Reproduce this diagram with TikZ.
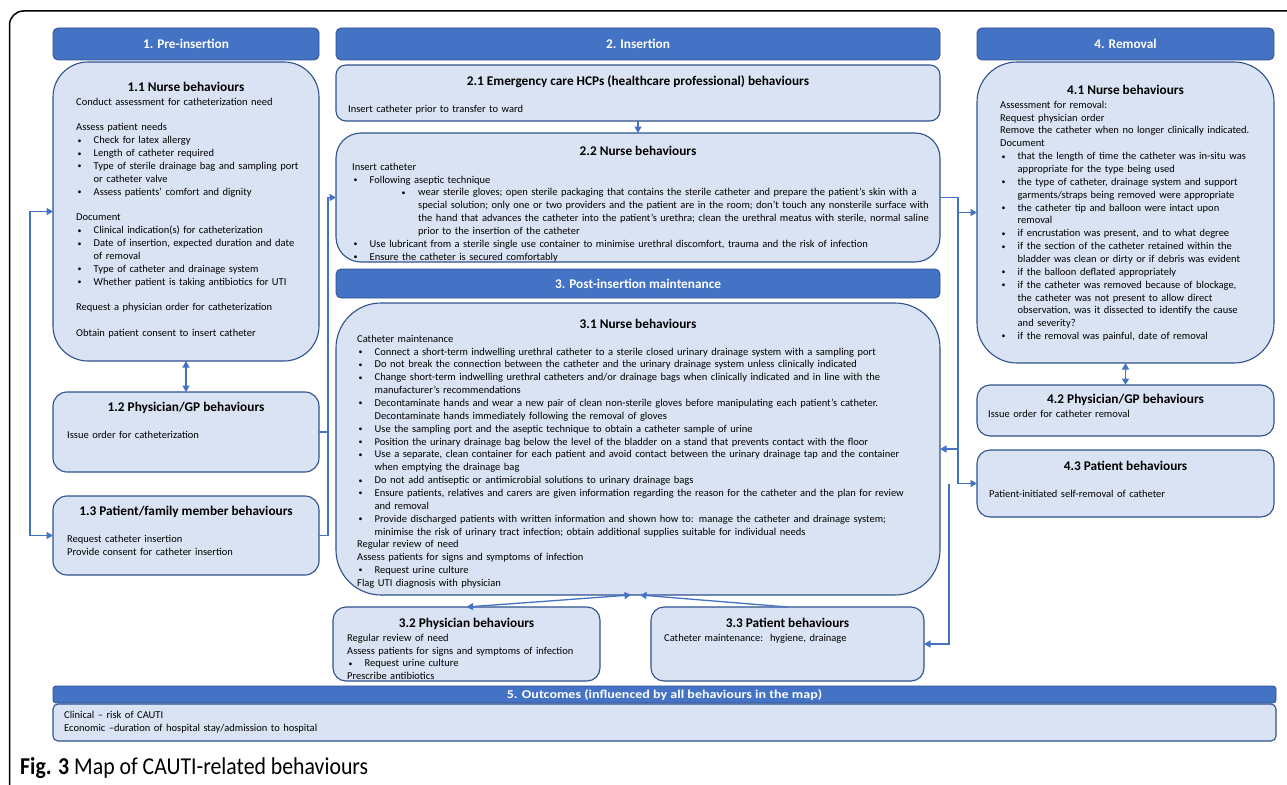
\documentclass[tikz,border=0pt]{standalone}
\usepackage{fontspec}
\setmainfont{Carlito}
\newfontfamily\capfont[FakeStretch=0.9]{Carlito}
\newfontfamily\widefont[FakeStretch=1.17]{Carlito}
\usetikzlibrary{arrows.meta,calc}
\definecolor{hdr}{HTML}{4472C4}
\definecolor{hdrline}{HTML}{2F528F}
\definecolor{boxfill}{HTML}{DAE3F3}
\definecolor{boxline}{HTML}{2F528F}
\definecolor{conncol}{HTML}{4472C4}
\newcommand\bulletmark{\raisebox{0.6pt}{\scalebox{0.75}{•}}}
\newcommand\PL[1]{\par\noindent\rule{0pt}{9pt}#1}
\newcommand\BL[1]{\par\noindent\hangindent=17.5pt\hangafter=1\rule{0pt}{9pt}\makebox[17.5pt][l]{\hspace{1.5pt}\bulletmark}#1}
\newcommand\SBL[1]{\par\noindent\hangindent=66pt\hangafter=1\rule{0pt}{9pt}\hspace{49.5pt}\makebox[16.5pt][l]{\bulletmark}#1}
\newcommand\BLANK{\par\noindent\rule{0pt}{9pt}}
\begin{document}
\begin{tikzpicture}[x=1pt,y=-1pt,
  hdrbox/.style={draw=hdrline,fill=hdr,line width=0.8pt,anchor=north west,inner sep=0pt,outer sep=0pt,
    text=white,font=\fontsize{13.3}{16}\selectfont\bfseries},
  bbox/.style={draw=boxline,fill=boxfill,line width=1.1pt,anchor=north west,inner sep=0pt,outer sep=0pt},
  ttl/.style={anchor=base,inner sep=0pt,font=\fontsize{13.3}{16}\selectfont\bfseries},
  body/.style={anchor=north west,inner sep=0pt,text width=#1,font=\fontsize{10.5}{12.85}\selectfont},
  body/.default=300pt,
  conn/.style={draw=conncol,line width=1.3pt},
  >={Triangle[length=6.5pt,width=7pt]}
]
\useasboundingbox (0,0) rectangle (1287,784);
\clip (0,0) rectangle (1287,784);
\fill[white] (0,0) rectangle (1287,784);
% outer frame
\draw[line width=1.5pt,rounded corners=14pt] (9.5,820) -- (9.5,11) -- (1320,11);

% headers
\node[hdrbox,minimum width=266pt,minimum height=32pt,rounded corners=5pt] (h1) at (53,28) {1. Pre-insertion};
\node[hdrbox,minimum width=604pt,minimum height=32pt,rounded corners=5pt] (h2) at (336,28) {2. Insertion};
\node[hdrbox,minimum width=604pt,minimum height=29pt,rounded corners=5pt] (h3) at (336,269) {3. Post-insertion maintenance};
\node[hdrbox,minimum width=297pt,minimum height=32pt,rounded corners=5pt] (h4) at (977,28) {4. Removal};
\node[hdrbox,minimum width=1223pt,minimum height=17pt,rounded corners=3pt,font=\widefont\fontsize{12}{12}\selectfont\bfseries] (h5) at (53,686) {5. Outcomes (influenced by all behaviours in the map)};

% boxes
\node[bbox,minimum width=266pt,minimum height=299pt,rounded corners=35pt] (b11) at (53,62) {};
\node[bbox,minimum width=266pt,minimum height=80pt,rounded corners=14pt] (b12) at (53,392) {};
\node[bbox,minimum width=266pt,minimum height=79pt,rounded corners=14pt] (b13) at (53,496) {};
\node[bbox,minimum width=604pt,minimum height=56pt,rounded corners=10pt] (b21) at (336,65) {};
\node[bbox,minimum width=604pt,minimum height=129pt,rounded corners=25pt] (b22) at (336,133) {};
\node[bbox,minimum width=604pt,minimum height=292pt,rounded corners=45pt] (b31) at (336,303) {};
\node[bbox,minimum width=267pt,minimum height=74pt,rounded corners=13pt] (b32) at (333,607) {};
\node[bbox,minimum width=273pt,minimum height=74pt,rounded corners=13pt] (b33) at (651,607) {};
\node[bbox,minimum width=297pt,minimum height=301pt,rounded corners=40pt] (b41) at (977,62) {};
\node[bbox,minimum width=297pt,minimum height=51pt,rounded corners=13pt] (b42) at (977,385) {};
\node[bbox,minimum width=297pt,minimum height=67pt,rounded corners=13pt] (b43) at (977,450) {};
\node[bbox,minimum width=1223pt,minimum height=37pt,rounded corners=5pt] (b5) at (53,704) {};

% titles
\node[ttl] (t11) at (186,91.8) {1.1 Nurse behaviours};
\node[ttl] (t12) at (186,411.8) {1.2 Physician/GP behaviours};
\node[ttl] (t13) at (186,515.8) {1.3 Patient/family member behaviours};
\node[ttl] (t21) at (638,85.8) {2.1 Emergency care HCPs (healthcare professional) behaviours};
\node[ttl] (t22) at (638,155.8) {2.2 Nurse behaviours};
\node[ttl] (t31) at (638,328.8) {3.1 Nurse behaviours};
\node[ttl] (t32) at (466.5,627.8) {3.2 Physician behaviours};
\node[ttl] (t33) at (787.5,627.8) {3.3 Patient behaviours};
\node[ttl] (t41) at (1125.5,94.8) {4.1 Nurse behaviours};
\node[ttl] (t42) at (1125.5,403.8) {4.2 Physician/GP behaviours};
\node[ttl] (t43) at (1125.5,470.8) {4.3 Patient behaviours};

% bodies
\node[body] (x11) at (76,92.2) {%
\PL{Conduct assessment for catheterization need}
\BLANK
\PL{Assess patient needs}
\BL{Check for latex allergy}
\BL{Length of catheter required}
\BL{Type of sterile drainage bag and sampling port\newline or catheter valve}
\BL{Assess patients’ comfort and dignity}
\BLANK
\PL{Document}
\BL{Clinical indication(s) for catheterization}
\BL{Date of insertion, expected duration and date\newline of removal}
\BL{Type of catheter and drainage system}
\BL{Whether patient is taking antibiotics for UTI}
\BLANK
\PL{Request a physician order for catheterization}
\BLANK
\PL{Obtain patient consent to insert catheter}};
\node[body] (x12) at (67,425.2) {\PL{Issue order for catheterization}};
\node[body] (x13) at (67,529.2) {\PL{Request catheter insertion}\PL{Provide consent for catheter insertion}};
\node[body] (x21) at (348,99.2) {\PL{Insert catheter prior to transfer to ward}};
\node[body=650pt] (x22) at (352,157.2) {%
\PL{Insert catheter}
\BL{Following aseptic technique}
\SBL{wear sterile gloves; open sterile packaging that contains the sterile catheter and prepare the patient’s skin with a\newline special solution; only one or two providers and the patient are in the room; don’t touch any nonsterile surface with\newline the hand that advances the catheter into the patient’s urethra; clean the urethral meatus with sterile, normal saline\newline prior to the insertion of the catheter}
\BL{Use lubricant from a sterile single use container to minimise urethral discomfort, trauma and the risk of infection}
\BL{Ensure the catheter is secured comfortably}};
\node[body=650pt] (x31) at (357,329.2) {%
\PL{Catheter maintenance}
\BL{Connect a short-term indwelling urethral catheter to a sterile closed urinary drainage system with a sampling port}
\BL{Do not break the connection between the catheter and the urinary drainage system unless clinically indicated}
\BL{Change short-term indwelling urethral catheters and/or drainage bags when clinically indicated and in line with the\newline manufacturer’s recommendations}
\BL{Decontaminate hands and wear a new pair of clean non-sterile gloves before manipulating each patient’s catheter.\newline Decontaminate hands immediately following the removal of gloves}
\BL{Use the sampling port and the aseptic technique to obtain a catheter sample of urine}
\BL{Position the urinary drainage bag below the level of the bladder on a stand that prevents contact with the floor}
\BL{Use a separate, clean container for each patient and avoid contact between the urinary drainage tap and the container\newline when emptying the drainage bag}
\BL{Do not add antiseptic or antimicrobial solutions to urinary drainage bags}
\BL{Ensure patients, relatives and carers are given information regarding the reason for the catheter and the plan for review\newline and removal}
\BL{Provide discharged patients with written information and shown how to: manage the catheter and drainage system;\newline minimise the risk of urinary tract infection; obtain additional supplies suitable for individual needs}
\PL{Regular review of need}
\PL{Assess patients for signs and symptoms of infection}
\BL{Request urine culture}
\PL{Flag UTI diagnosis with physician}};
\node[body] (x32) at (347,628.2) {%
\PL{Regular review of need}
\PL{Assess patients for signs and symptoms of infection}
\BL{Request urine culture}
\PL{Prescribe antibiotics}};
\node[body] (x33) at (664,628.2) {\PL{Catheter maintenance:\ \ hygiene, drainage}};
\node[body] (x41) at (1000,95.2) {%
\PL{Assessment for removal:}
\PL{Request physician order}
\PL{Remove the catheter when no longer clinically indicated.}
\PL{Document}
\BL{that the length of time the catheter was in-situ was\newline appropriate for the type being used}
\BL{the type of catheter, drainage system and support\newline garments/straps being removed were appropriate}
\BL{the catheter tip and balloon were intact upon\newline removal}
\BL{if encrustation was present, and to what degree}
\BL{if the section of the catheter retained within the\newline bladder was clean or dirty or if debris was evident}
\BL{if the balloon deflated appropriately}
\BL{if the catheter was removed because of blockage,\newline the catheter was not present to allow direct\newline observation, was it dissected to identify the cause\newline and severity?}
\BL{if the removal was painful, date of removal}};
\node[body] (x42) at (988,404.2) {\PL{Issue order for catheter removal}};
\node[body] (x43) at (989,484.2) {\PL{Patient-initiated self-removal of catheter}};
\node[body=600pt] (x5) at (64,705.2) {\PL{Clinical – risk of CAUTI}\PL{Economic –duration of hospital stay/admission to hospital}};

% caption
\node[anchor=base west,inner sep=0pt,font=\capfont\fontsize{24.2}{27}\selectfont] (cap) at (20,774) {\textbf{Fig. 3} Map of CAUTI-related behaviours};

% connectors
\coordinate (jL) at (30,0);
\coordinate (jM) at (328,0);
\coordinate (jR) at (958,0);
\coordinate (jS) at (949,0);
\draw[conn,<->] (b11.south) -- (b12.north);
\draw[conn,<->] (b11.west) -- (jL |- b11.west) -- (jL |- b13.west) -- (b13.west);
\draw[conn] (b12.east) -- (jM |- b12.east);
\draw[conn,->] (b13.east) -- (jM |- b13.east) -- (jM |- b22.west) -- (b22.west);
\draw[conn,->] (b21.south) -- (b22.north);
\draw[conn,->] (b22.east) -- (jR |- b22.east) -- (jR |- b41.west) -- (b41.west);
\draw[conn,->] (jR |- b41.west) -- (jR |- b43.west) -- (b43.west);
\draw[conn,->] (jR |- b31.east) -- (b31.east);
\draw[conn,->] (jS |- b43.west) -- (jS |- b33.east) -- (b33.east);
\draw[conn,<->] ($(b31.south)+(-7,0)$) -- (b32.north);
\draw[conn,->] (b33.north) -- ($(b31.south)+(2,0)$);
\draw[conn,<->] (b41.south) -- (b42.north);
\end{tikzpicture}
\end{document}
